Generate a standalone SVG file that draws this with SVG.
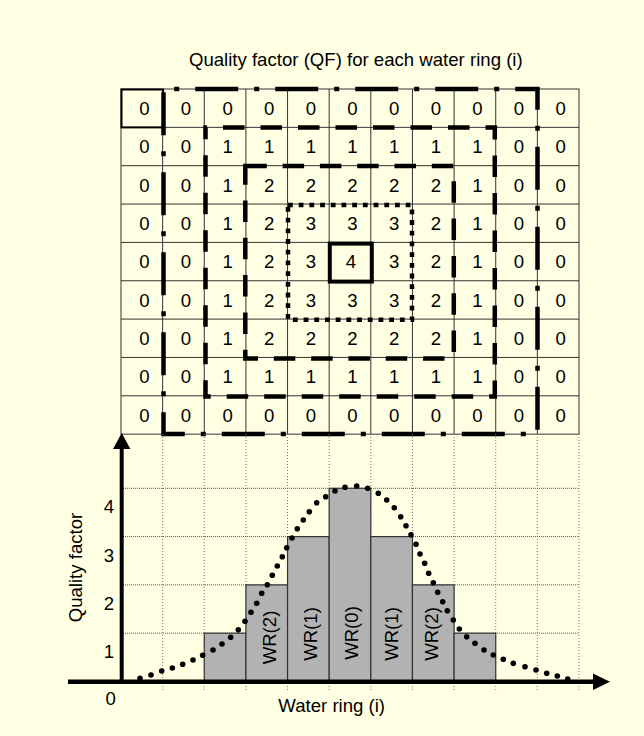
<svg xmlns="http://www.w3.org/2000/svg" width="644" height="736" viewBox="0 0 644 736">
<defs>
<style>
text{font-family:"Liberation Sans",Arial,sans-serif;font-size:18.6px;fill:#000}
.c text,.mid{text-anchor:middle}
.gl{stroke:#333;stroke-width:1;fill:none}
.ring{fill:none;stroke:#000;stroke-width:4.5;stroke-linejoin:miter}
.vg{stroke:#777;stroke-width:1;stroke-dasharray:1 2}
.hg{stroke:#555;stroke-width:1;stroke-dasharray:1 1}
.bar{fill:#b2b2b2;stroke:#333;stroke-width:1.2}
.dots circle{fill:#000}
</style>
</defs>
<rect width="644" height="736" fill="#FFFFE3"/>
<text id="title" class="mid" x="355.8" y="66">Quality factor (QF) for each water ring (i)</text>

<g id="grid" class="gl">
<rect x="121" y="89" width="458" height="345.15"/>
<path d="M121,127.35H579M121,165.7H579M121,204.05H579M121,242.4H579M121,280.75H579M121,319.1H579M121,357.45H579M121,395.8H579"/>
<path d="M162.64,89V434.15M204.27,89V434.15M245.91,89V434.15M287.55,89V434.15M329.18,89V434.15M370.82,89V434.15M412.45,89V434.15M454.09,89V434.15M495.73,89V434.15M537.36,89V434.15"/>
<rect id="cell00" x="121.5" y="89.5" width="41.6" height="37.9" stroke="#000" stroke-width="2"/>
<rect id="center" x="329.8" y="243.6" width="42" height="38" stroke="#000" stroke-width="4"/>
</g>

<g id="cells" class="c">
<text x="144.3" y="114.8">0</text><text x="186" y="114.8">0</text><text x="227.6" y="114.8">0</text><text x="269.2" y="114.8">0</text><text x="310.9" y="114.8">0</text><text x="352.5" y="114.8">0</text><text x="394.1" y="114.8">0</text><text x="435.8" y="114.8">0</text><text x="477.4" y="114.8">0</text><text x="519" y="114.8">0</text><text x="560.7" y="114.8">0</text>
<text x="144.3" y="153.2">0</text><text x="186" y="153.2">0</text><text x="227.6" y="153.2">1</text><text x="269.2" y="153.2">1</text><text x="310.9" y="153.2">1</text><text x="352.5" y="153.2">1</text><text x="394.1" y="153.2">1</text><text x="435.8" y="153.2">1</text><text x="477.4" y="153.2">1</text><text x="519" y="153.2">0</text><text x="560.7" y="153.2">0</text>
<text x="144.3" y="191.6">0</text><text x="186" y="191.6">0</text><text x="227.6" y="191.6">1</text><text x="269.2" y="191.6">2</text><text x="310.9" y="191.6">2</text><text x="352.5" y="191.6">2</text><text x="394.1" y="191.6">2</text><text x="435.8" y="191.6">2</text><text x="477.4" y="191.6">1</text><text x="519" y="191.6">0</text><text x="560.7" y="191.6">0</text>
<text x="144.3" y="229.9">0</text><text x="186" y="229.9">0</text><text x="227.6" y="229.9">1</text><text x="269.2" y="229.9">2</text><text x="310.9" y="229.9">3</text><text x="352.5" y="229.9">3</text><text x="394.1" y="229.9">3</text><text x="435.8" y="229.9">2</text><text x="477.4" y="229.9">1</text><text x="519" y="229.9">0</text><text x="560.7" y="229.9">0</text>
<text x="144.3" y="268.3">0</text><text x="186" y="268.3">0</text><text x="227.6" y="268.3">1</text><text x="269.2" y="268.3">2</text><text x="310.9" y="268.3">3</text><text x="351" y="268.3">4</text><text x="394.1" y="268.3">3</text><text x="435.8" y="268.3">2</text><text x="477.4" y="268.3">1</text><text x="519" y="268.3">0</text><text x="560.7" y="268.3">0</text>
<text x="144.3" y="306.6">0</text><text x="186" y="306.6">0</text><text x="227.6" y="306.6">1</text><text x="269.2" y="306.6">2</text><text x="310.9" y="306.6">3</text><text x="352.5" y="306.6">3</text><text x="394.1" y="306.6">3</text><text x="435.8" y="306.6">2</text><text x="477.4" y="306.6">1</text><text x="519" y="306.6">0</text><text x="560.7" y="306.6">0</text>
<text x="144.3" y="345">0</text><text x="186" y="345">0</text><text x="227.6" y="345">1</text><text x="269.2" y="345">2</text><text x="310.9" y="345">2</text><text x="352.5" y="345">2</text><text x="394.1" y="345">2</text><text x="435.8" y="345">2</text><text x="477.4" y="345">1</text><text x="519" y="345">0</text><text x="560.7" y="345">0</text>
<text x="144.3" y="383.3">0</text><text x="186" y="383.3">0</text><text x="227.6" y="383.3">1</text><text x="269.2" y="383.3">1</text><text x="310.9" y="383.3">1</text><text x="352.5" y="383.3">1</text><text x="394.1" y="383.3">1</text><text x="435.8" y="383.3">1</text><text x="477.4" y="383.3">1</text><text x="519" y="383.3">0</text><text x="560.7" y="383.3">0</text>
<text x="144.3" y="421.7">0</text><text x="186" y="421.7">0</text><text x="227.6" y="421.7">0</text><text x="269.2" y="421.7">0</text><text x="310.9" y="421.7">0</text><text x="352.5" y="421.7">0</text><text x="394.1" y="421.7">0</text><text x="435.8" y="421.7">0</text><text x="477.4" y="421.7">0</text><text x="519" y="421.7">0</text><text x="560.7" y="421.7">0</text>
</g>

<g id="rings">
<path id="ring0" class="ring" d="M163.5,89H537.5V434H163.5Z" stroke-dasharray="43 16 5 16" stroke-dashoffset="48.3"/>
<path id="ring1" class="ring" d="M205.5,127.4H494.8V396.5H205.5Z" stroke-dasharray="21.5 16" stroke-dashoffset="20"/>
<path id="ring2" class="ring" d="M245.3,166H453.8V358.5H245.3Z" stroke-dasharray="21.5 15.8"/>
<path id="ring3" class="ring" d="M288,205H412V319.8H288Z" stroke-dasharray="4.8 5.9"/>
</g>

<g id="chart-grid">
<path class="vg" d="M162.64,434V692M204.27,434V692M245.91,434V692M287.55,434V692M329.18,434V692M370.82,434V692M412.45,434V692M454.09,434V692M495.73,434V692M537.36,434V692M579,434V692"/>
<path class="hg" d="M121,488.3H579M121,536.6H579M121,584.9H579M121,633.2H579"/>
</g>

<g id="bars">
<rect class="bar" x="204.27" y="633.2" width="41.64" height="48.3"/>
<rect class="bar" x="245.91" y="584.9" width="41.64" height="96.6"/>
<rect class="bar" x="287.55" y="536.6" width="41.64" height="144.9"/>
<rect class="bar" x="329.18" y="488.3" width="41.64" height="193.2"/>
<rect class="bar" x="370.82" y="536.6" width="41.64" height="144.9"/>
<rect class="bar" x="412.45" y="584.9" width="41.64" height="96.6"/>
<rect class="bar" x="454.09" y="633.2" width="41.64" height="48.3"/>
</g>

<g id="bar-labels" class="c">
<text x="275.8" y="637.5" transform="rotate(-90 275.8 637.5)">WR(2)</text>
<text x="316.6" y="634" transform="rotate(-90 316.6 634)">WR(1)</text>
<text x="357.8" y="633" transform="rotate(-90 357.8 633)">WR(0)</text>
<text x="398.2" y="634" transform="rotate(-90 398.2 634)">WR(1)</text>
<text x="437.5" y="634" transform="rotate(-90 437.5 634)">WR(2)</text>
</g>

<g id="curve" class="dots">
<circle cx="140" cy="678.3" r="2.8"/><circle cx="151" cy="675" r="2.8"/><circle cx="161.7" cy="671" r="2.8"/><circle cx="172.3" cy="668" r="2.8"/><circle cx="182.7" cy="664.3" r="2.8"/><circle cx="193" cy="660" r="2.8"/><circle cx="202.7" cy="655.3" r="2.8"/><circle cx="213" cy="650" r="2.8"/><circle cx="222" cy="644" r="2.8"/><circle cx="230.7" cy="637.3" r="2.8"/><circle cx="238.3" cy="629.7" r="2.8"/><circle cx="245" cy="621.3" r="2.8"/><circle cx="251" cy="612.3" r="2.8"/><circle cx="256.7" cy="603.3" r="2.8"/><circle cx="261.7" cy="593.3" r="2.8"/><circle cx="267.3" cy="584.7" r="2.8"/><circle cx="272.3" cy="575.3" r="2.8"/><circle cx="277.3" cy="566" r="2.8"/><circle cx="282.3" cy="556.7" r="2.8"/><circle cx="286.7" cy="547.7" r="2.8"/><circle cx="292" cy="538" r="2.8"/><circle cx="297.3" cy="528.7" r="2.8"/><circle cx="303.3" cy="520" r="2.8"/><circle cx="309.3" cy="511.7" r="2.8"/><circle cx="316.7" cy="502.7" r="2.8"/><circle cx="325.7" cy="496.7" r="2.8"/><circle cx="335" cy="491" r="2.8"/><circle cx="345" cy="487.3" r="2.8"/><circle cx="356.7" cy="486" r="2.8"/><circle cx="367.7" cy="488.3" r="2.8"/>
<circle cx="378.3" cy="493.3" r="2.8"/><circle cx="386.7" cy="500" r="2.8"/><circle cx="394.3" cy="507.7" r="2.8"/><circle cx="400.7" cy="516.7" r="2.8"/><circle cx="406" cy="525.7" r="2.8"/><circle cx="411" cy="534.7" r="2.8"/><circle cx="416" cy="544.3" r="2.8"/><circle cx="420" cy="554" r="2.8"/><circle cx="424.7" cy="563.3" r="2.8"/><circle cx="428.7" cy="573.3" r="2.8"/><circle cx="433.3" cy="582.7" r="2.8"/><circle cx="437.7" cy="592.3" r="2.8"/><circle cx="442.7" cy="601.7" r="2.8"/><circle cx="447.3" cy="610.7" r="2.8"/><circle cx="453.3" cy="620" r="2.8"/><circle cx="459.3" cy="629" r="2.8"/><circle cx="466.7" cy="636.7" r="2.8"/><circle cx="475" cy="643.3" r="2.8"/><circle cx="484" cy="650" r="2.8"/><circle cx="493.3" cy="655" r="2.8"/><circle cx="503.3" cy="659.3" r="2.8"/><circle cx="513.3" cy="663.3" r="2.8"/><circle cx="525" cy="666.7" r="2.8"/><circle cx="536" cy="670" r="2.8"/><circle cx="546.7" cy="673.3" r="2.8"/><circle cx="557.3" cy="676" r="2.8"/><circle cx="567.7" cy="679" r="2.8"/>
</g>

<g id="axes">
<line x1="121.7" y1="683.5" x2="121.7" y2="446" stroke="#000" stroke-width="4"/>
<polygon points="121.7,433 113,449 130.4,449" fill="#000"/>
<line x1="68" y1="681.7" x2="596" y2="681.7" stroke="#000" stroke-width="4.5"/>
<polygon points="610,681.7 593,673.5 593,690" fill="#000"/>
</g>

<g id="axis-labels" class="c">
<text x="109" y="512.7">4</text>
<text x="109" y="561.7">3</text>
<text x="109" y="610">2</text>
<text x="109" y="658">1</text>
<text x="110.7" y="704.5">0</text>
<text x="81.8" y="567.5" transform="rotate(-90 81.8 567.5)">Quality factor</text>
<text x="331.7" y="712">Water ring (i)</text>
</g>
</svg>
